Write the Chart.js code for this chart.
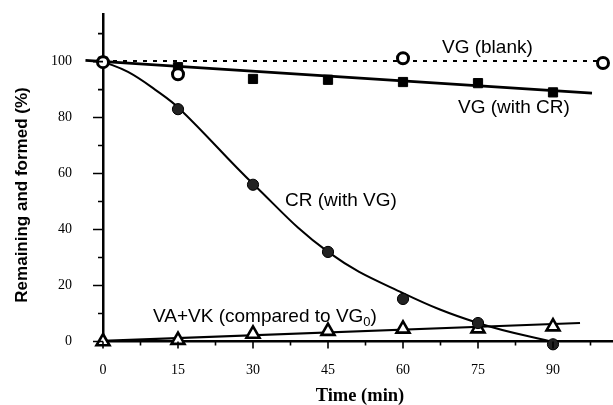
<!DOCTYPE html>
<html><head><meta charset="utf-8">
<script src="https://cdn.jsdelivr.net/npm/chart.js@4"></script>
<style>html,body{margin:0;padding:0;background:#fff}#wrap{width:613px;height:405px;position:relative}canvas{display:block}</style>
</head><body><div id="wrap"><canvas id="c" width="613" height="405" style="width:613px;height:405px"></canvas></div>
<script>
// ---- data ----
const timeMin   = [0, 15, 30, 45, 60, 75, 90];
const vgWithCR  = [100, 98, 93.8, 93.5, 92.7, 92.3, 89];
const crWithVG  = [100, 83, 56, 32, 15.2, 6.6, -1];
const vaVk      = [0, 0.5, 2.7, 3.7, 4.5, 4.6, 5.3];
const blankTime = [0, 15, 60, 100];
const vgBlank   = [99.8, 95.5, 101.2, 99.5];
// fitted curves
const crCurveTime = [0, 5, 10.4, 15.4, 30.2, 45, 60, 75, 91];
const crCurveVal  = [100, 96.3, 90, 83, 56, 32, 17.3, 6.6, -0.6];
const vgCRFitTime = [-3.5, 97.8];
const vgCRFitVal  = [100.4, 88.7];
const blankFitTime = [0, 100];
const blankFitVal  = [100.2, 100.2];
const vaFitTime = [0, 95.4];
const vaFitVal  = [0.2, 6.6];
// axis ticks
const xTicks = [0, 15, 30, 45, 60, 75, 90];
const xMinorTicks = [7.5, 22.5, 37.5, 52.5, 67.5, 82.5, 97.5];
const yTicks = [0, 20, 40, 60, 80, 100];
const yMinorTicks = [10, 30, 50, 70, 90, 110];

const pts = (xs, ys) => xs.map((x, i) => ({x, y: ys[i]}));

const annot = {
  id: 'annot',
  afterDraw(chart) {
    const {ctx, scales: {x, y}, chartArea: a} = chart;
    ctx.save();
    ctx.strokeStyle = '#000';
    ctx.lineWidth = 1.6;
    ctx.beginPath();
    yTicks.forEach(v => { const py = y.getPixelForValue(v); ctx.moveTo(a.left - 10, py); ctx.lineTo(a.left, py); });
    yMinorTicks.forEach(v => { const py = y.getPixelForValue(v); ctx.moveTo(a.left - 5, py); ctx.lineTo(a.left, py); });
    xTicks.forEach(v => { const px = x.getPixelForValue(v); ctx.moveTo(px, a.bottom); ctx.lineTo(px, a.bottom + 7); });
    xMinorTicks.forEach(v => { const px = x.getPixelForValue(v); ctx.moveTo(px, a.bottom); ctx.lineTo(px, a.bottom + 4); });
    ctx.stroke();

    ctx.fillStyle = '#000';
    ctx.textBaseline = 'alphabetic';
    ctx.textAlign = 'left';
    ctx.font = '19px "Liberation Sans", Arial, sans-serif';
    ctx.fillText('VG (blank)', x.getPixelForValue(67.8), y.getPixelForValue(103.0));
    ctx.fillText('VG (with CR)', x.getPixelForValue(71), y.getPixelForValue(81.6));
    ctx.fillText('CR (with VG)', x.getPixelForValue(36.4), y.getPixelForValue(48.4));
    let lx = x.getPixelForValue(10), ly = y.getPixelForValue(7.0);
    const s1 = 'VA+VK (compared to VG';
    ctx.fillText(s1, lx, ly);
    lx += ctx.measureText(s1).width;
    ctx.font = '13px "Liberation Sans", Arial, sans-serif';
    ctx.fillText('0', lx, ly + 4);
    lx += ctx.measureText('0').width;
    ctx.font = '19px "Liberation Sans", Arial, sans-serif';
    ctx.fillText(')', lx, ly);

    // axis titles
    ctx.font = 'bold 18.5px "Liberation Serif", "Times New Roman", serif';
    ctx.textAlign = 'center';
    ctx.fillText('Time (min)', 360, 401);
    ctx.save();
    ctx.translate(22, 195);
    ctx.rotate(-Math.PI / 2);
    ctx.textBaseline = 'middle';
    ctx.font = 'bold 17px "Liberation Sans", Arial, sans-serif';
    ctx.fillText('Remaining and formed (%)', 0, 0);
    ctx.restore();
    ctx.restore();
  }
};

new Chart(document.getElementById('c'), {
  type: 'scatter',
  data: {
    datasets: [
      { label: 'VG (blank) fit', data: pts(blankFitTime, blankFitVal), showLine: true, pointRadius: 0,
        borderColor: '#000', borderWidth: 2, borderDash: [4, 6], order: 10, clip: false },
      { label: 'VG (with CR) fit', data: pts(vgCRFitTime, vgCRFitVal), showLine: true, pointRadius: 0,
        borderColor: '#000', borderWidth: 2.8, order: 10, clip: false },
      { label: 'CR (with VG) fit', data: pts(crCurveTime, crCurveVal), showLine: true, pointRadius: 0,
        borderColor: '#000', borderWidth: 2, tension: 0.4, order: 10, clip: false },
      { label: 'VA+VK fit', data: pts(vaFitTime, vaFitVal), showLine: true, pointRadius: 0,
        borderColor: '#000', borderWidth: 2.2, order: 10, clip: false },
      { label: 'VA+VK', data: pts(timeMin, vaVk), pointStyle: 'triangle', pointRadius: 7.5,
        backgroundColor: '#fff', borderColor: '#000', borderWidth: 2.6, order: 4, clip: false },
      { label: 'VG (with CR)', data: pts(timeMin, vgWithCR), pointStyle: 'rect', pointRadius: 6.5,
        backgroundColor: '#000', borderColor: '#000', borderWidth: 1, order: 3, clip: false },
      { label: 'CR (with VG)', data: pts(timeMin, crWithVG), pointStyle: 'circle', pointRadius: 5.6,
        backgroundColor: '#222', borderColor: '#000', borderWidth: 1, order: 2, clip: false },
      { label: 'VG (blank)', data: pts(blankTime, vgBlank), pointStyle: 'circle', pointRadius: 5.5,
        backgroundColor: '#fff', borderColor: '#000', borderWidth: 3, order: 1, clip: false }
    ]
  },
  options: {
    responsive: false,
    maintainAspectRatio: false,
    animation: false,
    events: [],
    layout: { autoPadding: false, padding: { top: 14, right: 0, left: 0, bottom: 0 } },
    plugins: { legend: { display: false }, tooltip: { enabled: false } },
    scales: {
      x: {
        type: 'linear', position: 'bottom', min: 0, max: 102,
        afterFit: s => { s.height = 63.5; s.paddingLeft = 0; s.paddingRight = 0; },
        afterBuildTicks: s => { s.ticks = xTicks.map(v => ({value: v})); },
        grid: { display: false, drawTicks: true, tickLength: 20 },
        border: { display: true, color: '#000', width: 2.5 },
        ticks: { color: '#000', padding: 0, maxRotation: 0, autoSkip: false,
          font: { family: '"Liberation Serif", "Times New Roman", serif', size: 14 } }
      },
      y: {
        type: 'linear', position: 'left', min: 0, max: 117,
        afterFit: s => { s.width = 103; s.paddingTop = 0; s.paddingBottom = 0; },
        afterBuildTicks: s => { s.ticks = yTicks.map(v => ({value: v})); },
        grid: { display: false, drawTicks: true, tickLength: 31 },
        border: { display: true, color: '#000', width: 2.5 },
        ticks: { color: '#000', padding: 0, autoSkip: false,
          font: { family: '"Liberation Serif", "Times New Roman", serif', size: 14 } }
      }
    }
  },
  plugins: [annot]
});
</script>
</body></html>
